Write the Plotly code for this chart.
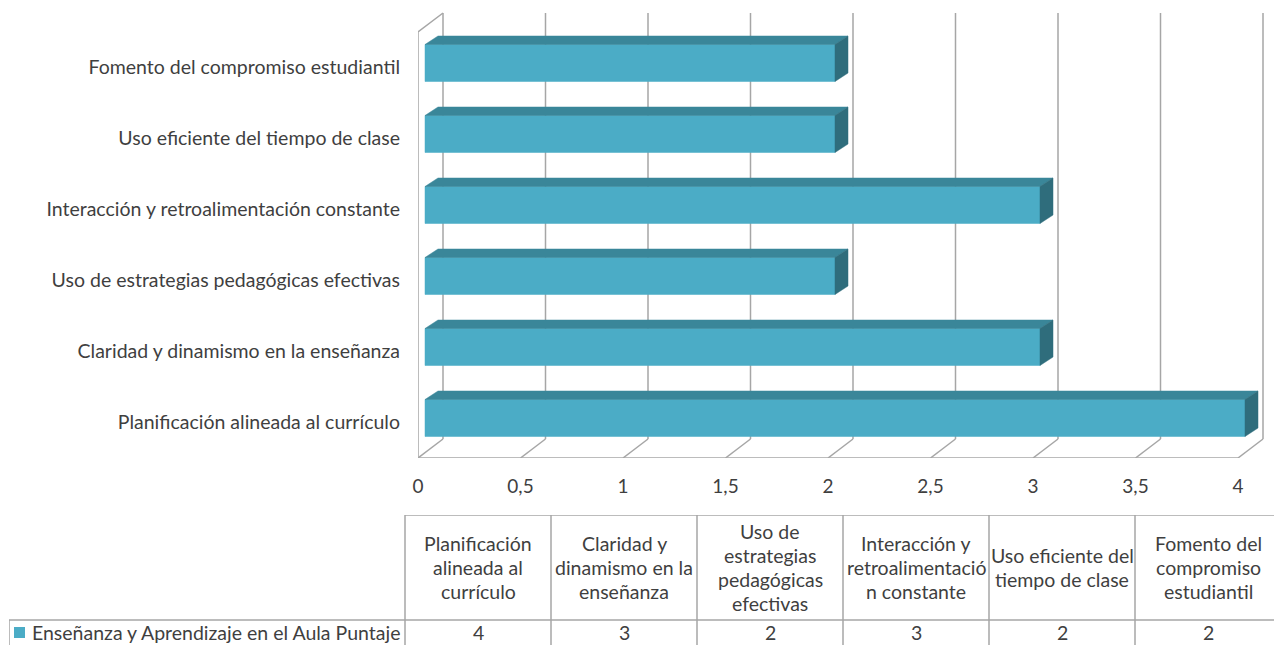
import plotly.graph_objects as go

categories = [
    "Planificación alineada al currículo",
    "Claridad y dinamismo en la enseñanza",
    "Uso de estrategias pedagógicas efectivas",
    "Interacción y retroalimentación constante",
    "Uso eficiente del tiempo de clase",
    "Fomento del compromiso estudiantil",
]
header_labels = [
    "Planificación<br>alineada al<br>currículo",
    "Claridad y<br>dinamismo en la<br>enseñanza",
    "Uso de<br>estrategias<br>pedagógicas<br>efectivas",
    "Interacción y<br>retroalimentació<br>n constante",
    "Uso eficiente del<br>tiempo de clase",
    "Fomento del<br>compromiso<br>estudiantil",
]
values = [4, 3, 2, 3, 2, 2]
series_name = "Enseñanza y Aprendizaje en el Aula Puntaje"
x_ticks = [0, 0.5, 1, 1.5, 2, 2.5, 3, 3.5, 4]
x_tick_text = ["0", "0,5", "1", "1,5", "2", "2,5", "3", "3,5", "4"]

# --- layout geometry (pixels) ---
W, H = 1274, 645
PLOT_L, PLOT_R, PLOT_T, PLOT_B = 418, 1272, 10, 458
PX_X, PX_Y = 205, 71
WD_X, WD_Y = 25 / PX_X, 19 / PX_Y          # wall depth
B1_X, B1_Y = 7 / PX_X, 4.5 / PX_Y          # bar front face offset
B2_X, B2_Y = 20 / PX_X, 13 / PX_Y          # bar back offset
HALF = 18.5 / PX_Y

FRONT = "#4bacc6"
TOP = "#3a8699"
SIDE = "#2f6d7c"
GRID = "#a6a6a6"
TXT = "#3f3f3f"
FONT = "Lato"

n = len(categories)
y_lo, y_hi = -0.5, n - 0.5
fig = go.Figure()

# walls / grid
gx, gy = [], []
for t in x_ticks:
    gx += [t + WD_X, t + WD_X, None]
    gy += [y_lo + WD_Y, y_hi + WD_Y, None]
    gx += [t, t + WD_X, None]
    gy += [y_lo, y_lo + WD_Y, None]
gx += [x_ticks[0], x_ticks[-1], None, 0, 0, WD_X, None]
gy += [y_lo, y_lo, None, y_lo, y_hi, y_hi + WD_Y, None]
fig.add_trace(go.Scatter(x=gx, y=gy, mode="lines", line=dict(color=GRID, width=1.5),
                         hoverinfo="skip", showlegend=False))


def face(xs, ys, color):
    fig.add_trace(go.Scatter(
        x=xs, y=ys, fill="toself", fillcolor=color, mode="lines",
        line=dict(width=0.5, color=color), hoverinfo="skip", showlegend=False,
    ))


# 3D bars: front, top and side faces
for i, v in enumerate(values):
    top = i + HALF
    bot = i - HALF
    face([B1_X, v + B1_X, v + B1_X, B1_X, B1_X],
         [bot + B1_Y, bot + B1_Y, top + B1_Y, top + B1_Y, bot + B1_Y], FRONT)
    face([B1_X, v + B1_X, v + B2_X, B2_X, B1_X],
         [top + B1_Y, top + B1_Y, top + B2_Y, top + B2_Y, top + B1_Y], TOP)
    face([v + B1_X, v + B1_X, v + B2_X, v + B2_X, v + B1_X],
         [bot + B1_Y, top + B1_Y, top + B2_Y, bot + B2_Y, bot + B1_Y], SIDE)

# --- data table (x2/y2) ---
T_L, T_COL0, COL_W = 9, 405, 146
T_TOP, T_MID = 515, 620
ROW_PX = H - T_MID                       # value row height in px (unit 1)
hdr_h = (T_MID - T_TOP) / ROW_PX
x2_lo = (T_L - T_COL0) / COL_W
x2_hi = (W - T_COL0) / COL_W

lx, ly = [], []
lx += [0, x2_hi, None]; ly += [hdr_h, hdr_h, None]
lx += [x2_lo, x2_hi, None]; ly += [0, 0, None]
lx += [x2_lo, x2_lo, None]; ly += [-1, 0, None]
for c in range(n):
    lx += [c, c, None]; ly += [-1, hdr_h, None]
fig.add_trace(go.Scatter(x=lx, y=ly, xaxis="x2", yaxis="y2", mode="lines",
                         line=dict(color=GRID, width=1.5), hoverinfo="skip", showlegend=False))

fig.add_trace(go.Scatter(x=[(19.5 - T_COL0) / COL_W], y=[-0.5], xaxis="x2", yaxis="y2",
                         mode="markers", marker=dict(symbol="square", size=11, color=FRONT),
                         hoverinfo="skip", showlegend=False))

annotations = []
LINE_H = 24
TBL_SIZE = 19.5
for c, lab in enumerate(header_labels):
    lines = lab.split("<br>")
    for k, line in enumerate(lines):
        annotations.append(dict(
            x=c + 0.5, y=hdr_h / 2, xref="x2", yref="y2", text=line, showarrow=False,
            yshift=((len(lines) - 1) / 2 - k) * LINE_H,
            font=dict(family=FONT, size=TBL_SIZE, color=TXT),
        ))
for c, v in enumerate(values):
    annotations.append(dict(x=c + 0.5, y=-0.5, xref="x2", yref="y2", text=str(v),
                            showarrow=False, font=dict(family=FONT, size=TBL_SIZE, color=TXT)))
annotations.append(dict(x=(30 - T_COL0) / COL_W, y=-0.5, xref="x2", yref="y2",
                        text=series_name, xanchor="left", showarrow=False,
                        font=dict(family=FONT, size=TBL_SIZE, color=TXT)))

fig.update_layout(
    template="none",
    width=W, height=H,
    margin=dict(l=0, r=0, t=0, b=0, pad=0),
    paper_bgcolor="white", plot_bgcolor="rgba(0,0,0,0)",
    showlegend=False,
    annotations=annotations,
    xaxis=dict(
        domain=[PLOT_L / W, PLOT_R / W],
        range=[0, (PLOT_R - PLOT_L) / PX_X],
        tickvals=x_ticks, ticktext=x_tick_text, ticks="",
        showgrid=False, zeroline=False, showline=False, automargin=False,
        ticklabelstandoff=15,
        tickfont=dict(family=FONT, size=19, color=TXT),
    ),
    yaxis=dict(
        domain=[(H - PLOT_B) / H, (H - PLOT_T) / H],
        range=[y_lo, y_lo + (PLOT_B - PLOT_T) / PX_Y],
        tickvals=list(range(n)), ticktext=categories, ticks="",
        showgrid=False, zeroline=False, showline=False, automargin=False,
        ticklabelstandoff=17,
        tickfont=dict(family=FONT, size=19.5, color=TXT),
    ),
    xaxis2=dict(domain=[T_L / W, 1], range=[x2_lo, x2_hi], visible=False,
                anchor="y2", automargin=False),
    yaxis2=dict(domain=[0, (H - T_TOP) / H], range=[-1, hdr_h], visible=False,
                anchor="x2", automargin=False),
)

# the page body has a default 8px margin; remove it so the figure fills the window
fig.write_html("out.html", config={"displayModeBar": False},
               post_script="document.body.style.margin='0';")
